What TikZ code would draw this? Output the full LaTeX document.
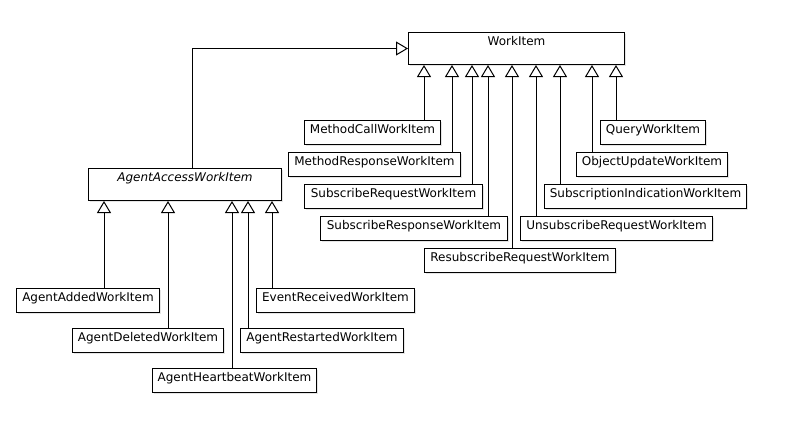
\documentclass[tikz,border=0pt]{standalone}
\usepackage{fontspec}
\setmainfont{DejaVu Sans}
\usetikzlibrary{arrows.meta,shadows}
\begin{document}
\begin{tikzpicture}[x=1pt,y=-1pt,
  cls/.style={draw, line width=1pt, fill=white, rectangle, inner xsep=0pt, inner ysep=4pt,
    text height=8.75pt, font=\fontsize{12}{14}\selectfont, anchor=north west,
    drop shadow={shadow xshift=1.5pt, shadow yshift=-1.5pt, fill=black!10, opacity=1}},
  small/.style={cls, text depth=7.25pt},
  big/.style={cls, text depth=15.25pt},
  inh/.style={line width=1pt, -{Triangle[open, length=12pt, width=14pt, fill=white]}}
]
\useasboundingbox (0,0) rectangle (788,421);

% parents
\node[big, minimum width=216pt] (wi) at (408,32) {WorkItem};
\node[big, minimum width=193pt, font=\fontsize{12}{14}\selectfont\itshape] (aa) at (88,168) {AgentAccessWorkItem};

% WorkItem children
\node[small, minimum width=136pt] (mc) at (304,120) {MethodCallWorkItem};
\node[small, minimum width=172pt] (mr) at (288,152) {MethodResponseWorkItem};
\node[small, minimum width=178pt] (sq) at (304,184) {SubscribeRequestWorkItem};
\node[small, minimum width=187pt] (sp) at (320,216) {SubscribeResponseWorkItem};
\node[small, minimum width=191pt] (rs) at (424,248) {ResubscribeRequestWorkItem};
\node[small, minimum width=192pt] (us) at (520,216) {UnsubscribeRequestWorkItem};
\node[small, minimum width=202pt] (si) at (544,184) {SubscriptionIndicationWorkItem};
\node[small, minimum width=151pt] (ou) at (576,152) {ObjectUpdateWorkItem};
\node[small, minimum width=105pt] (qw) at (600,120) {QueryWorkItem};

% AgentAccessWorkItem children
\node[small, minimum width=143pt] (ad) at (16,288) {AgentAddedWorkItem};
\node[small, minimum width=151pt] (de) at (72,328) {AgentDeletedWorkItem};
\node[small, minimum width=164pt] (hb) at (152,368) {AgentHeartbeatWorkItem};
\node[small, minimum width=163pt] (rt) at (240,328) {AgentRestartedWorkItem};
\node[small, minimum width=158pt] (er) at (256,288) {EventReceivedWorkItem};

% inheritance connectors to WorkItem
\draw[inh] (424,0 |- mc.north) -- (424,0 |- wi.south);
\draw[inh] (452,0 |- mr.north) -- (452,0 |- wi.south);
\draw[inh] (472,0 |- sq.north) -- (472,0 |- wi.south);
\draw[inh] (488,0 |- sp.north) -- (488,0 |- wi.south);
\draw[inh] (512,0 |- rs.north) -- (512,0 |- wi.south);
\draw[inh] (536,0 |- us.north) -- (536,0 |- wi.south);
\draw[inh] (560,0 |- si.north) -- (560,0 |- wi.south);
\draw[inh] (592,0 |- ou.north) -- (592,0 |- wi.south);
\draw[inh] (616,0 |- qw.north) -- (616,0 |- wi.south);
\draw[inh] (192,0 |- aa.north) |- (wi.west);

% inheritance connectors to AgentAccessWorkItem
\draw[inh] (104,0 |- ad.north) -- (104,0 |- aa.south);
\draw[inh] (168,0 |- de.north) -- (168,0 |- aa.south);
\draw[inh] (232,0 |- hb.north) -- (232,0 |- aa.south);
\draw[inh] (248,0 |- rt.north) -- (248,0 |- aa.south);
\draw[inh] (272,0 |- er.north) -- (272,0 |- aa.south);
\end{tikzpicture}
\end{document}
